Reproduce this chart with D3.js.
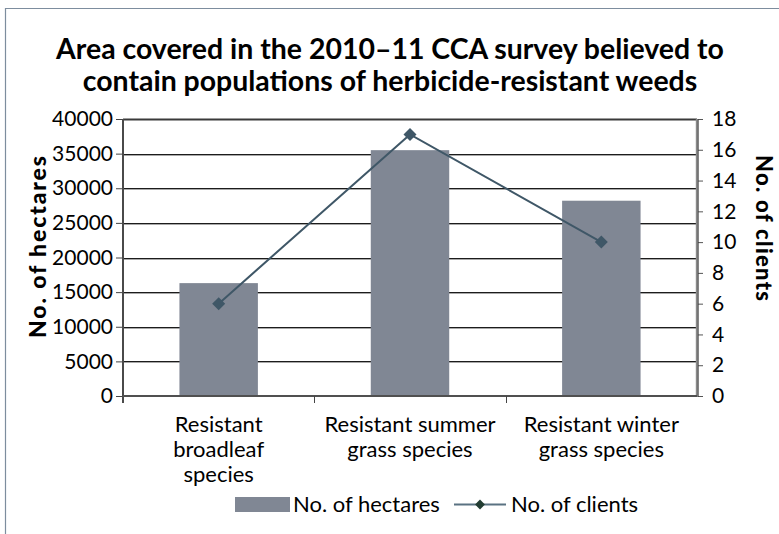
<!DOCTYPE html>
<html>
<head>
<meta charset="utf-8">
<script src="https://cdn.jsdelivr.net/npm/d3@7"></script>
<style>
  html, body { margin: 0; padding: 0; background: #fff; }
  svg { display: block; font-family: Lato, "Open Sans", sans-serif; }
</style>
</head>
<body>
<svg id="chart" width="779" height="534"></svg>
<script>
// Survey data
const categories = [
  "Resistant\nbroadleaf\nspecies",
  "Resistant summer\ngrass species",
  "Resistant winter\ngrass species"
];
const hectares = [16300, 35500, 28200];
const clients = [6, 17, 10];
const hectareTicks = [0, 5000, 10000, 15000, 20000, 25000, 30000, 35000, 40000];
const clientTicks = [0, 2, 4, 6, 8, 10, 12, 14, 16, 18];
const titleLines = [
  "Area covered in the 2010\u201311 CCA survey believed to",
  "contain populations of herbicide-resistant weeds"
];
const seriesNames = ["No. of hectares", "No. of clients"];
const axisTitles = ["No. of hectares", "No. of clients"];

const svg = d3.select("#chart");
const plot = { left: 123, right: 697, top: 119, bottom: 396 };

const barColor = "#808794";
const lineColor = "#3f5767";

// outer frame (top and left edges)
svg.append("path")
  .attr("d", "M5.5,534 V8.5 H779")
  .attr("fill", "none")
  .attr("stroke", "#7d8d9e")
  .attr("stroke-width", 1.2);

// title
const title = svg.append("g").attr("font-weight", 700).attr("fill", "#000");
titleLines.forEach((t, i) => {
  title.append("text")
    .attr("x", 390)
    .attr("y", 59 + i * 32)
    .attr("text-anchor", "middle")
    .attr("font-size", 24)
    .text(t);
});
// size the title so its first line spans the intended width
{
  const first = title.select("text").node();
  const w = first.getComputedTextLength();
  const fs = 24 * 668 / w;
  title.selectAll("text").attr("font-size", fs);
}

const x = d3.scaleBand()
  .domain(categories)
  .range([plot.left, plot.right])
  .paddingInner(0.59)
  .paddingOuter(0.295);

const yLeft = d3.scaleLinear().domain([0, 40000]).range([plot.bottom, plot.top]);
const yRight = d3.scaleLinear().domain([0, 18]).range([plot.bottom, plot.top]);

// gridlines
const grid = svg.append("g");
hectareTicks.filter(v => v > 0).forEach(v => {
  const y = Math.round(yLeft(v));
  if (v === 40000) {
    grid.append("line")
      .attr("x1", plot.left).attr("x2", plot.right)
      .attr("y1", y + 0.5).attr("y2", y + 0.5)
      .attr("stroke", "#3a3a3a").attr("stroke-width", 2.2);
  } else {
    grid.append("line")
      .attr("x1", plot.left).attr("x2", plot.right)
      .attr("y1", y + 0.5).attr("y2", y + 0.5)
      .attr("stroke", "#1c1c1c").attr("stroke-width", 1);
    grid.append("line")
      .attr("x1", plot.left).attr("x2", plot.right)
      .attr("y1", y + 1.5).attr("y2", y + 1.5)
      .attr("stroke", "#a8a8a8").attr("stroke-width", 1);
  }
});

// bars
svg.append("g").selectAll("rect")
  .data(hectares)
  .join("rect")
  .attr("x", (d, i) => x(categories[i]))
  .attr("width", x.bandwidth())
  .attr("y", d => yLeft(d))
  .attr("height", d => yLeft(0) - yLeft(d))
  .attr("fill", barColor);

// left axis
const axL = svg.append("g")
  .attr("transform", `translate(${plot.left},0)`)
  .call(d3.axisLeft(yLeft).tickValues(hectareTicks).tickSize(7).tickPadding(3).tickFormat(d3.format("d")));
axL.select(".domain").remove();
axL.selectAll(".tick line").attr("stroke", "#444");
axL.selectAll(".tick text")
  .attr("font-size", 21).attr("fill", "#000")
  .attr("font-family", "Lato, sans-serif");

// right axis
const axR = svg.append("g")
  .attr("transform", `translate(${plot.right},0)`)
  .call(d3.axisRight(yRight).tickValues(clientTicks).tickSize(6).tickPadding(9));
axR.select(".domain").remove();
axR.selectAll(".tick line").attr("stroke", "#555");
axR.selectAll(".tick text")
  .attr("font-size", 21).attr("fill", "#000")
  .attr("font-family", "Lato, sans-serif");

// axis lines
svg.append("line")
  .attr("x1", plot.left).attr("x2", plot.left)
  .attr("y1", plot.top).attr("y2", plot.bottom + 7)
  .attr("stroke", "#4a4a4a").attr("stroke-width", 2);
svg.append("line")
  .attr("x1", plot.right).attr("x2", plot.right)
  .attr("y1", plot.top).attr("y2", plot.bottom + 1)
  .attr("stroke", "#8a8a8a").attr("stroke-width", 2.4);
svg.append("line")
  .attr("x1", plot.right + 1.2).attr("x2", plot.right + 1.2)
  .attr("y1", plot.top).attr("y2", plot.bottom + 1)
  .attr("stroke", "#333").attr("stroke-width", 0.8);
svg.append("line")
  .attr("x1", plot.left).attr("x2", plot.right)
  .attr("y1", plot.bottom).attr("y2", plot.bottom)
  .attr("stroke", "#505050").attr("stroke-width", 2);

// category ticks between bands
const step = x.step();
[1, 2].forEach(k => {
  const xt = Math.round(plot.left + k * step) + 0.5;
  svg.append("line")
    .attr("x1", xt).attr("x2", xt)
    .attr("y1", plot.bottom).attr("y2", plot.bottom + 7)
    .attr("stroke", "#444").attr("stroke-width", 1);
});

// category labels
const catG = svg.append("g").attr("font-size", 22).attr("fill", "#000");
categories.forEach(c => {
  const cx = x(c) + x.bandwidth() / 2;
  const t = catG.append("text").attr("text-anchor", "middle");
  c.split("\n").forEach((line, j) => {
    t.append("tspan").attr("x", cx).attr("y", 432 + j * 25).text(line);
  });
});

// clients line
const lineGen = d3.line()
  .x((d, i) => x(categories[i]) + x.bandwidth() / 2)
  .y(d => yRight(d));
svg.append("path")
  .datum(clients)
  .attr("d", lineGen)
  .attr("fill", "none")
  .attr("stroke", lineColor)
  .attr("stroke-width", 2);
svg.append("g").selectAll("rect")
  .data(clients)
  .join("rect")
  .attr("x", -4.6).attr("y", -4.6)
  .attr("width", 9.2).attr("height", 9.2)
  .attr("transform", (d, i) => `translate(${x(categories[i]) + x.bandwidth() / 2},${yRight(d)}) rotate(45)`)
  .attr("fill", lineColor);

// axis titles
svg.append("text")
  .attr("transform", "translate(46,247) rotate(-90)")
  .attr("text-anchor", "middle")
  .attr("font-size", 23).attr("font-weight", 900)
  .attr("textLength", 182).attr("lengthAdjust", "spacing")
  .text(axisTitles[0]);
svg.append("text")
  .attr("transform", "translate(756,228) rotate(90)")
  .attr("text-anchor", "middle")
  .attr("font-size", 22).attr("font-weight", 900)
  .attr("textLength", 146).attr("lengthAdjust", "spacing")
  .text(axisTitles[1]);

// legend
const lg = svg.append("g");
lg.append("rect")
  .attr("x", 235).attr("y", 497)
  .attr("width", 55).attr("height", 15)
  .attr("fill", barColor);
lg.append("text")
  .attr("x", 293).attr("y", 512)
  .attr("font-size", 22)
  .text(seriesNames[0]);
lg.append("line")
  .attr("x1", 454).attr("x2", 506)
  .attr("y1", 504.5).attr("y2", 504.5)
  .attr("stroke", "#5a7282").attr("stroke-width", 2);
lg.append("rect")
  .attr("x", -3.5).attr("y", -3.5)
  .attr("width", 7).attr("height", 7)
  .attr("transform", "translate(480,504.5) rotate(45)")
  .attr("fill", "#233d33");
lg.append("text")
  .attr("x", 511).attr("y", 512)
  .attr("font-size", 22)
  .text(seriesNames[1]);
</script>
</body>
</html>
